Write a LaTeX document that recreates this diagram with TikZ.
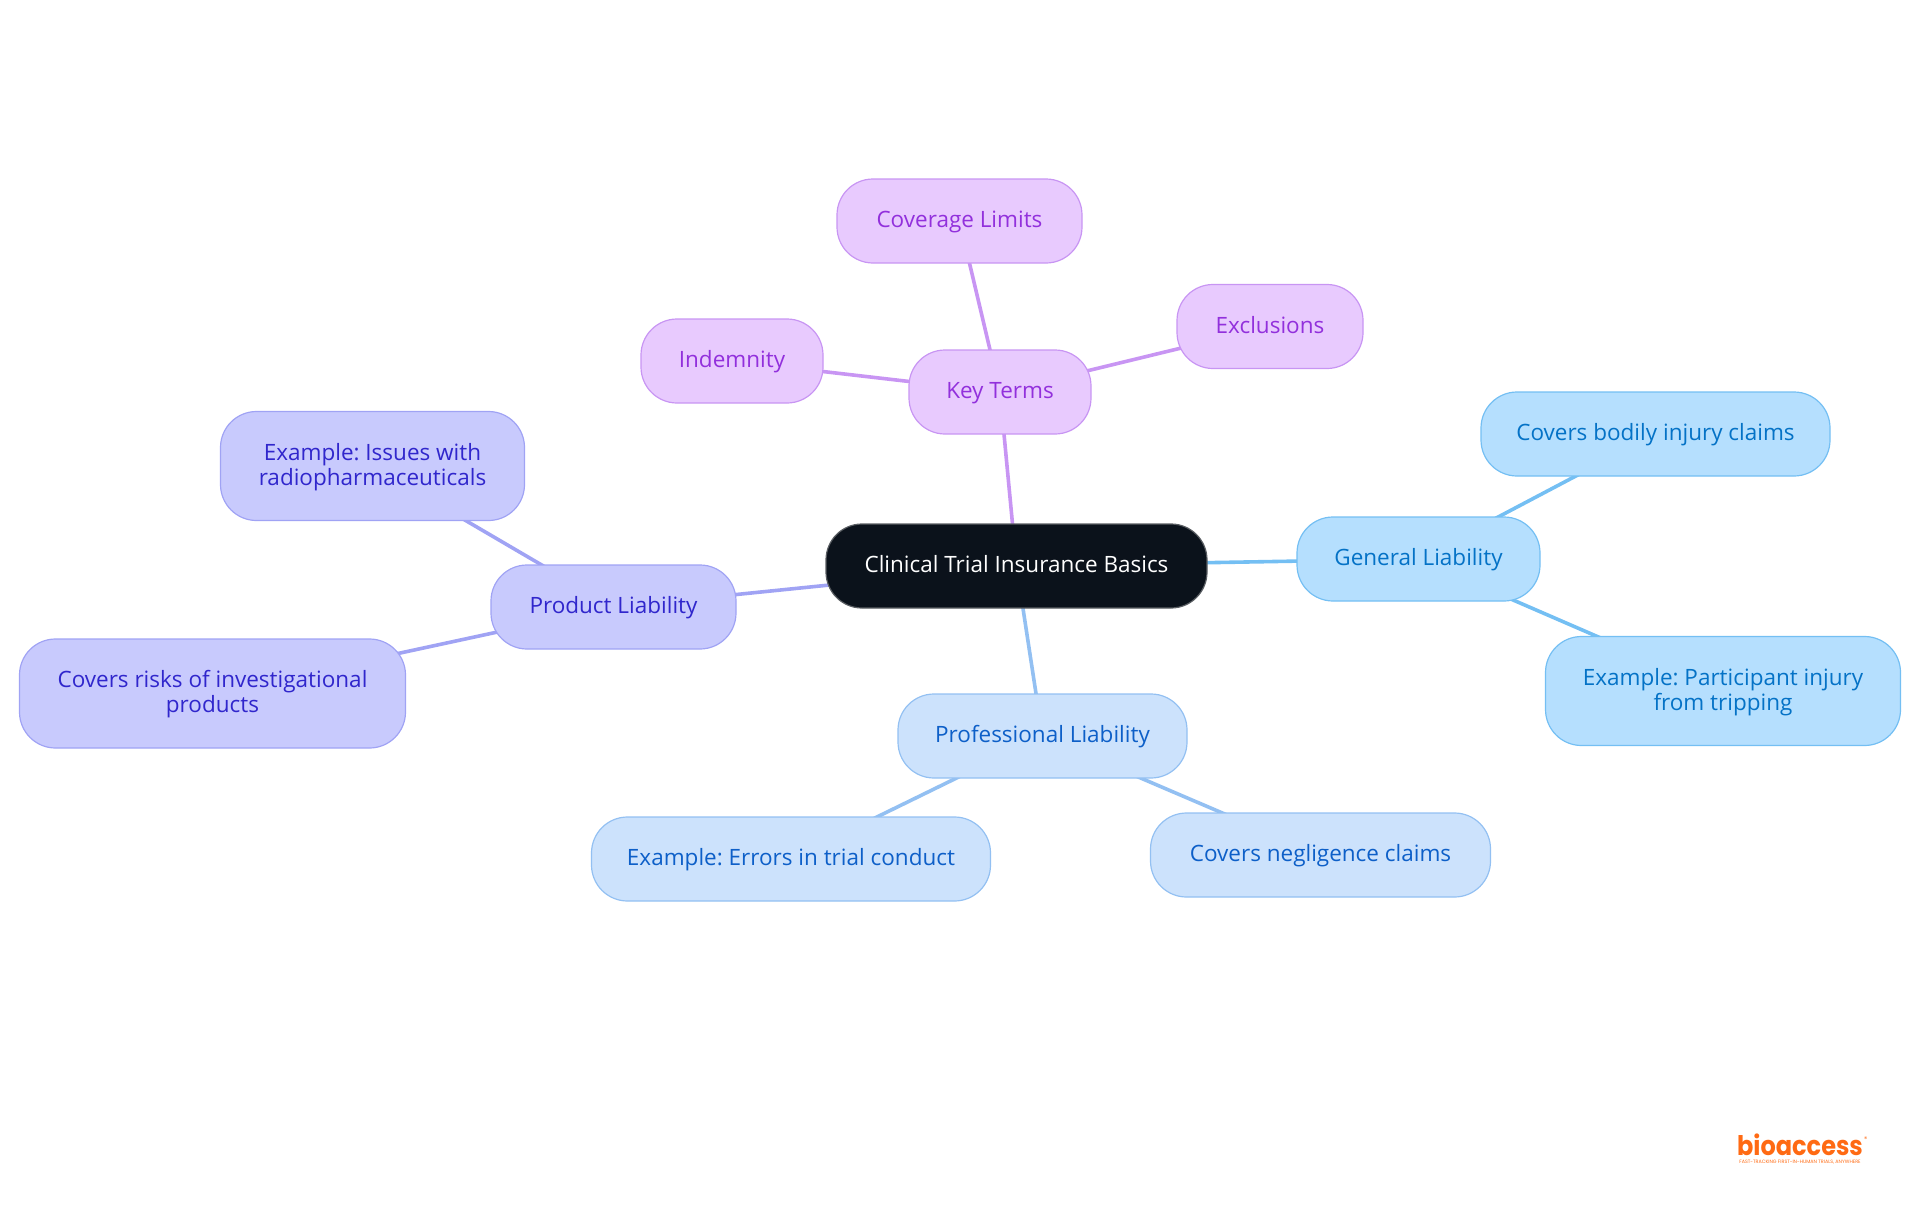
\documentclass[tikz,border=0pt]{standalone}
\usepackage{fontspec}
\setmainfont{Open Sans}
\newfontfamily\logofont{Poppins}
\usetikzlibrary{backgrounds}
\frenchspacing
\definecolor{rootfill}{HTML}{0B121B}
\definecolor{rootline}{HTML}{5A5E63}
\definecolor{profill}{HTML}{CCE2FC}
\definecolor{proline}{HTML}{93C0F2}
\definecolor{protext}{HTML}{0D5FC8}
\definecolor{prdfill}{HTML}{C8CAFD}
\definecolor{prdline}{HTML}{A0A3F4}
\definecolor{prdtext}{HTML}{3026CC}
\definecolor{keyfill}{HTML}{E8CAFE}
\definecolor{keyline}{HTML}{C895F3}
\definecolor{keytext}{HTML}{9230DC}
\definecolor{genfill}{HTML}{B5DFFE}
\definecolor{genline}{HTML}{74BFF3}
\definecolor{gentext}{HTML}{0472C6}
\definecolor{logoorange}{HTML}{FF6A13}
\tikzset{
  x=1pt,y=-1pt,
  box/.style={draw,line width=1.2pt,rounded corners=36pt,inner sep=0pt,align=center,
    text height=16pt,text depth=3pt,font=\fontsize{22.5}{25}\selectfont},
  twolines/.style={text height=41pt},
  rootbox/.style={box,fill=rootfill,draw=rootline,text=white},
  probox/.style={box,fill=profill,draw=proline,text=protext},
  prdbox/.style={box,fill=prdfill,draw=prdline,text=prdtext},
  keybox/.style={box,fill=keyfill,draw=keyline,text=keytext},
  genbox/.style={box,fill=genfill,draw=genline,text=gentext},
  link/.style={line width=3.6pt}
}
\begin{document}
\begin{tikzpicture}
\useasboundingbox (0,0) rectangle (1920,1215);
\node[rootbox,minimum width=381pt,minimum height=84pt] (root) at (1016.5,566) {Clinical Trial Insurance Basics};
\node[probox,minimum width=289pt,minimum height=84pt] (prof) at (1042.5,736) {Professional Liability};
\node[probox,minimum width=399pt,minimum height=84pt] (errors) at (791,859) {Example: Errors in trial conduct};
\node[probox,minimum width=340pt,minimum height=84pt] (neg) at (1320.5,855) {Covers negligence claims};
\node[prdbox,minimum width=245pt,minimum height=84pt] (prod) at (613.5,607) {Product Liability};
\node[prdbox,twolines,minimum width=304pt,minimum height=109pt] (issues) at (372.5,466) {Example: Issues with\\radiopharmaceuticals};
\node[prdbox,twolines,minimum width=386pt,minimum height=109pt] (risks) at (212.5,693.5) {Covers risks of investigational\\products};
\node[keybox,minimum width=182pt,minimum height=84pt] (key) at (1000,392) {Key Terms};
\node[keybox,minimum width=182pt,minimum height=84pt] (ind) at (732,361) {Indemnity};
\node[keybox,minimum width=245pt,minimum height=84pt] (cov) at (959.5,221) {Coverage Limits};
\node[keybox,minimum width=186pt,minimum height=84pt] (exc) at (1270,326.5) {Exclusions};
\node[genbox,minimum width=243pt,minimum height=84pt] (gen) at (1418.5,559) {General Liability};
\node[genbox,minimum width=349pt,minimum height=84pt] (bod) at (1655.5,434) {Covers bodily injury claims};
\node[genbox,twolines,minimum width=355pt,minimum height=109pt] (part) at (1723,691) {Example: Participant injury\\from tripping};
\begin{scope}[on background layer]
\draw[link,draw=proline] (root.center)--(prof.center);
\draw[link,draw=proline] (prof.center)--(errors.center);
\draw[link,draw=proline] (prof.center)--(neg.center);
\draw[link,draw=prdline] (root.center)--(prod.center);
\draw[link,draw=prdline] (prod.center)--(issues.center);
\draw[link,draw=prdline] (prod.center)--(risks.center);
\draw[link,draw=keyline] (root.center)--(key.center);
\draw[link,draw=keyline] (key.center)--(ind.center);
\draw[link,draw=keyline] (key.center)--(cov.center);
\draw[link,draw=keyline] (key.center)--(exc.center);
\draw[link,draw=genline] (root.center)--(gen.center);
\draw[link,draw=genline] (gen.center)--(bod.center);
\draw[link,draw=genline] (gen.center)--(part.center);
\end{scope}
\node[inner sep=0pt,xscale=.89,text=logoorange,text height=19pt,text depth=0pt,font=\logofont\bfseries\fontsize{27}{27}\selectfont,anchor=base] (logo) at (1800,1155) {bioaccess};
\node[inner sep=0pt,text=logoorange,font=\logofont\fontsize{6.5}{6.5}\selectfont,anchor=west] (reg) at (1864,1139) {®};
\node[inner sep=0pt,text=logoorange,font=\logofont\fontsize{4.8}{5}\selectfont] (tag) at (1800,1162.5) {FAST-TRACKING FIRST-IN-HUMAN TRIALS, ANYWHERE};
\end{tikzpicture}
\end{document}
